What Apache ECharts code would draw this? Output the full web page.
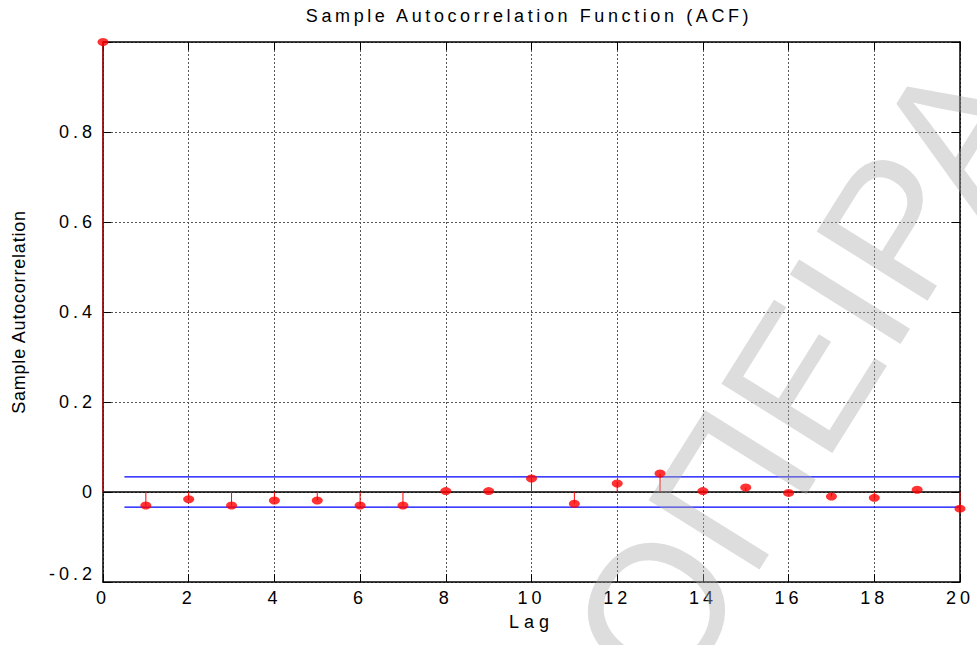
<!DOCTYPE html>
<html>
<head>
<meta charset="utf-8">
<title>Sample Autocorrelation Function (ACF)</title>
<script src="https://cdn.jsdelivr.net/npm/echarts@6/dist/echarts.min.js"></script>
<style>
  html, body { margin: 0; padding: 0; background: #fff; }
  #chart { width: 977px; height: 645px; }
</style>
</head>
<body>
<div id="chart"></div>
<script>
// Lags and sample autocorrelation values
const lags = [0, 1, 2, 3, 4, 5, 6, 7, 8, 9, 10, 11, 12, 13, 14, 15, 16, 17, 18, 19, 20];
const acf = [1, -0.030, -0.016, -0.030, -0.019, -0.019, -0.030, -0.030, 0.002, 0.002,
             0.030, -0.026, 0.019, 0.041, 0.002, 0.010, -0.002, -0.010, -0.013, 0.005, -0.037];
// Approximate 95% confidence bounds, drawn from lag 0.5 to lag 20
const boundLags = [0.5, 20];
const upperBound = [0.0335, 0.0335];
const lowerBound = [-0.0335, -0.0335];
// Zero reference line
const zeroLags = [0, 20];
const zeroLine = [0, 0];

const titleText = 'Sample Autocorrelation Function (ACF)';
const xName = 'Lag';
const yName = 'Sample Autocorrelation';
const xTicks = ['0', '2', '4', '6', '8', '10', '12', '14', '16', '18', '20'];
const yTicks = ['-0.2', '0', '0.2', '0.4', '0.6', '0.8'];
const watermark = 'ΟΠΕΙΡΑ';

const FONT = '"Liberation Sans", Arial, Helvetica, sans-serif';

const pairs = (xs, ys) => xs.map((x, i) => [x, ys[i]]);

const frameLine = { show: true, onZero: false, lineStyle: { color: '#000', width: 1.5 } };
const innerTick = { show: true, inside: true, length: 8, lineStyle: { color: '#000', width: 1 } };
const gridDash = { show: true, lineStyle: { color: '#555', width: 1, type: [2, 2] } };

const option = {
  backgroundColor: '#fff',
  animation: false,
  grid: { left: 103, right: 17, top: 42, bottom: 63, containLabel: false },
  xAxis: [
    {
      type: 'value', min: 0, max: 20, interval: 2, position: 'bottom',
      axisLine: frameLine, axisTick: innerTick, splitLine: gridDash,
      axisLabel: { color: '#000', fontFamily: FONT, fontSize: 18, margin: 7,
                   formatter: v => xTicks[Math.round(v / 2)] },
      name: xName, nameLocation: 'middle', nameGap: 31,
      nameTextStyle: { color: '#000', fontFamily: FONT, fontSize: 18 }
    },
    {
      type: 'value', min: 0, max: 20, interval: 2, position: 'top',
      axisLine: frameLine, axisTick: innerTick, splitLine: { show: false },
      axisLabel: { show: false }
    }
  ],
  yAxis: [
    {
      type: 'value', min: -0.2, max: 1, interval: 0.2, position: 'left',
      axisLine: frameLine, axisTick: innerTick, splitLine: gridDash,
      axisLabel: {
        color: '#000', fontFamily: FONT, fontSize: 18, margin: 7,
        formatter: v => {
          const idx = Math.round((v + 0.2) / 0.2);
          if (idx === 0) return '{lo|' + yTicks[0] + '}';
          return idx < yTicks.length ? yTicks[idx] : '';
        },
        rich: { lo: { fontFamily: FONT, fontSize: 18, color: '#000', padding: [0, 0, 16, 0] } }
      },
      name: yName, nameLocation: 'middle', nameGap: 75,
      nameTextStyle: { color: '#000', fontFamily: FONT, fontSize: 18 }
    },
    {
      type: 'value', min: -0.2, max: 1, interval: 0.2, position: 'right',
      axisLine: frameLine, axisTick: innerTick, splitLine: { show: false },
      axisLabel: { show: false }
    }
  ],
  series: [
    {
      name: 'zero', type: 'line', data: pairs(zeroLags, zeroLine),
      symbol: 'none', silent: true, z: 3,
      lineStyle: { color: '#000', width: 1.5 }
    },
    {
      name: 'upper bound', type: 'line', data: pairs(boundLags, upperBound),
      symbol: 'none', silent: true, z: 3,
      lineStyle: { color: '#0000ff', width: 1.2 }
    },
    {
      name: 'lower bound', type: 'line', data: pairs(boundLags, lowerBound),
      symbol: 'none', silent: true, z: 3,
      lineStyle: { color: '#0000ff', width: 1.2 }
    },
    {
      name: 'stems', type: 'custom', data: pairs(lags, acf), z: 4,
      renderItem: (params, api) => {
        const lag = api.value(0);
        const p0 = api.coord([lag, 0]);
        const p1 = api.coord([lag, api.value(1)]);
        return {
          type: 'line',
          shape: { x1: p0[0], y1: p0[1], x2: p1[0], y2: p1[1] },
          style: { stroke: '#ff0000', lineWidth: 1 }
        };
      }
    },
    {
      name: 'ACF', type: 'scatter', data: pairs(lags, acf), z: 5,
      symbol: 'circle', symbolSize: [11, 8], clip: false,
      itemStyle: { color: '#ff0000' }
    }
  ],
  graphic: [
    {
      type: 'text', x: 529, y: 16, z: 10,
      style: { text: titleText, font: '18px ' + FONT, fill: '#000',
               align: 'center', verticalAlign: 'middle' }
    },
    {
      type: 'text', x: 617, y: 673, rotation: 58 * Math.PI / 180, z: 100, silent: true,
      style: { text: watermark, font: '190px ' + FONT, fill: 'rgba(170,170,170,0.4)',
               align: 'left', verticalAlign: 'middle' }
    }
  ]
};

const dom = document.getElementById('chart');
const chart = echarts.init(dom, null, { renderer: 'svg' });
chart.setOption(option);

// Wide character spacing for title, axis name and tick labels
const tickSet = new Set(xTicks.concat(yTicks));
function spaceText() {
  dom.querySelectorAll('svg text').forEach(el => {
    const s = el.textContent;
    let ls = null;
    if (s === titleText) ls = 3.6;
    else if (s === yName) ls = 0.8;
    else if (s === xName) ls = 5;
    else if (tickSet.has(s)) ls = 4;
    if (ls !== null) el.style.letterSpacing = ls + 'px';
  });
}
chart.on('finished', spaceText);
spaceText();
</script>
</body>
</html>
